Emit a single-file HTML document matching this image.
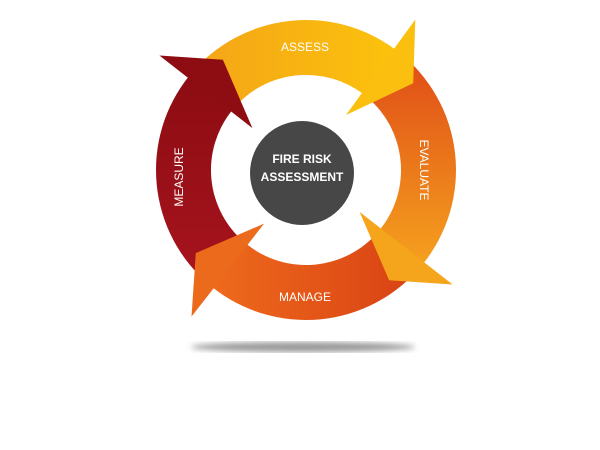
<!DOCTYPE html>
<html><head><meta charset="utf-8"><style>
html,body{margin:0;padding:0;background:#fff;width:600px;height:450px;overflow:hidden}
svg{display:block}
text{font-family:"Liberation Sans",sans-serif;fill:#fff}
</style></head><body>
<svg id="s" width="600" height="450" viewBox="0 0 600 450">
<defs>
<linearGradient id="gA" x1="0" y1="0" x2="1" y2="0"><stop offset="0" stop-color="#f4a418"/><stop offset="1" stop-color="#fcc20c"/></linearGradient>
<linearGradient id="gE" x1="0" y1="0" x2="0" y2="1"><stop offset="0" stop-color="#df4a17"/><stop offset="1" stop-color="#f5a01e"/></linearGradient>
<linearGradient id="gM" x1="1" y1="0" x2="0" y2="0"><stop offset="0" stop-color="#d84114"/><stop offset="1" stop-color="#ee6a1c"/></linearGradient>
<linearGradient id="gR" x1="0" y1="0" x2="0" y2="1"><stop offset="0" stop-color="#8c0c12"/><stop offset="1" stop-color="#a8141e"/></linearGradient>
<filter id="bl"><feGaussianBlur stdDeviation="3"/></filter>
</defs>
<ellipse cx="303" cy="347" rx="112" ry="5" fill="#999" filter="url(#bl)"/>
<g id="bodies"></g>
<g id="heads"></g>
<circle cx="302" cy="173" r="52" fill="#474747"/>
<text x="302" y="163" font-size="12" font-weight="bold" text-anchor="middle">FIRE RISK</text>
<text x="302" y="181" font-size="12" font-weight="bold" text-anchor="middle">ASSESSMENT</text>
<text x="305" y="51" font-size="12" text-anchor="middle">ASSESS</text>
<text x="305" y="301" font-size="12" text-anchor="middle">MANAGE</text>
<text transform="translate(420,170) rotate(90)" font-size="12" text-anchor="middle">EVALUATE</text>
<text transform="translate(183,177) rotate(-90)" font-size="12" text-anchor="middle">MEASURE</text>
</svg>
<script>
var cx=306,cy=170,ri=95,ro=150,NS="http://www.w3.org/2000/svg";
function p(r,a){a=a*Math.PI/180;return (cx+r*Math.cos(a)).toFixed(1)+","+(cy+r*Math.sin(a)).toFixed(1);}
var arrows=[[-140,-53,"url(#gA)","#fbbf10"],[-52,39,"url(#gE)","#f5a51c"],[40,129,"url(#gM)","#ec6a1c"],[130,219,"url(#gR)","#8e0d13"]];
var b=document.getElementById("bodies"),h=document.getElementById("heads");
arrows.forEach(function(x){
 var a0=x[0],a1=x[1];
 var d="M"+p(ro,a0)+" A"+ro+","+ro+" 0 0 1 "+p(ro,a1)+" L"+p(ri,a1)+" A"+ri+","+ri+" 0 0 0 "+p(ri,a0)+"Z";
 var e=document.createElementNS(NS,"path");e.setAttribute("d",d);e.setAttribute("fill",x[2]);b.appendChild(e);
 var hd="M"+p(68,a1-1)+" L"+p(186,a1-1)+" L"+p(138,a1+14)+"Z";
 var f=document.createElementNS(NS,"path");f.setAttribute("d",hd);f.setAttribute("fill",x[3]);h.appendChild(f);
});
</script>
</body></html>
